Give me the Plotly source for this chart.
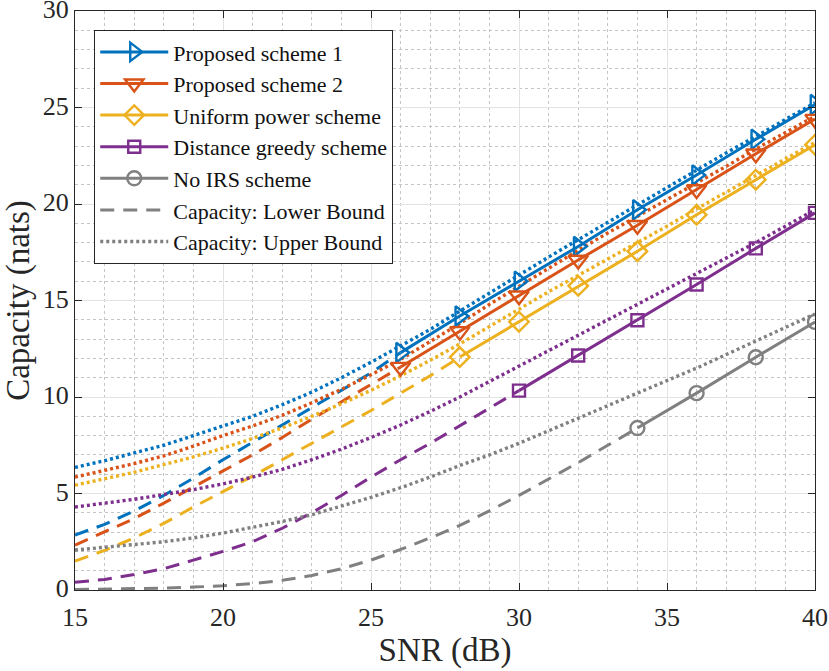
import plotly.graph_objects as go

# SNR grid for the bound curves (dB)
snr_fine = list(range(15, 41))

# marker points (solid lines)
snr_p1 = [26, 28, 30, 32, 34, 36, 38, 40]
cap_p1 = [12.3, 14.2, 16.0, 17.8, 19.7, 21.5, 23.35, 25.15]
snr_p2 = [26, 28, 30, 32, 34, 36, 38, 40]
cap_p2 = [11.55, 13.4, 15.25, 17.1, 18.9, 20.75, 22.6, 24.4]
snr_uni = [28, 30, 32, 34, 36, 38, 40]
cap_uni = [12.07, 13.9, 15.76, 17.55, 19.44, 21.26, 23.07]
snr_greedy = [30, 32, 34, 36, 38, 40]
cap_greedy = [10.33, 12.15, 13.98, 15.83, 17.7, 19.54]
snr_noirs = [34, 36, 38, 40]
cap_noirs = [8.39, 10.2, 12.06, 13.89]

# lower bounds (dashed), from 15 dB up to first marker
low_p1 = [2.85, 3.4, 4.1, 4.9, 5.8, 6.75, 7.65, 8.55, 9.45, 10.35, 11.25, 12.3]
low_p2 = [2.33, 3.0, 3.7, 4.5, 5.35, 6.17, 7.0, 7.9, 8.85, 9.75, 10.65, 11.55]
low_uni = [1.5, 2.05, 2.7, 3.45, 4.3, 5.1, 5.9, 6.75, 7.6, 8.45, 9.3, 10.2, 11.1, 12.07]
low_greedy = [0.4, 0.55, 0.8, 1.1, 1.55, 2.0, 2.5, 3.2, 4.0, 4.9, 5.85, 6.75, 7.6,
              8.5, 9.4, 10.33]
low_noirs = [0.02, 0.04, 0.06, 0.1, 0.15, 0.22, 0.33, 0.5, 0.75, 1.1, 1.55, 2.1, 2.7,
             3.35, 4.1, 4.9, 5.75, 6.6, 7.5, 8.39]

# upper bounds (dotted), 15..40 dB
up_p1 = [6.35, 6.7, 7.1, 7.5, 8.0, 8.5, 9.0, 9.6, 10.25, 11.0, 11.8, 12.65, 13.5,
         14.45, 15.4, 16.35, 17.25, 18.15, 19.05, 19.95, 20.85, 21.75, 22.65, 23.5,
         24.4, 25.25]
up_p2 = [5.85, 6.2, 6.55, 6.95, 7.45, 8.0, 8.5, 9.05, 9.7, 10.4, 11.15, 11.95, 12.85,
         13.8, 14.8, 15.75, 16.7, 17.6, 18.5, 19.35, 20.2, 21.1, 21.95, 22.85, 23.7,
         24.55]
up_uni = [5.43, 5.75, 6.1, 6.5, 6.9, 7.35, 7.85, 8.4, 9.0, 9.65, 10.35, 11.1, 11.9,
          12.75, 13.65, 14.6, 15.45, 16.3, 17.15, 18.0, 18.85, 19.75, 20.6, 21.5,
          22.35, 23.2]
up_greedy = [4.3, 4.5, 4.7, 4.95, 5.2, 5.5, 5.85, 6.25, 6.75, 7.3, 7.9, 8.55, 9.25,
             10.0, 10.8, 11.6, 12.4, 13.2, 14.0, 14.8, 15.6, 16.4, 17.2, 18.0, 18.85,
             19.7]
up_noirs = [2.07, 2.2, 2.35, 2.5, 2.7, 2.95, 3.25, 3.55, 3.9, 4.35, 4.8, 5.3, 5.85,
            6.45, 7.0, 7.6, 8.25, 8.9, 9.55, 10.2, 10.85, 11.5, 12.2, 12.9, 13.6, 14.3]

names = ["Proposed scheme 1", "Proposed scheme 2", "Uniform power scheme",
         "Distance greedy scheme", "No IRS scheme"]
colors = ["#0072BD", "#D95319", "#EDB120", "#7E2F8E", "#808080"]
symbols = ["triangle-right-open", "triangle-down-open", "diamond-open",
           "square-open", "circle-open"]
msizes = [17, 17, 15, 12, 14]

solid_x = [snr_p1, snr_p2, snr_uni, snr_greedy, snr_noirs]
solid_y = [cap_p1, cap_p2, cap_uni, cap_greedy, cap_noirs]
lows = [low_p1, low_p2, low_uni, low_greedy, low_noirs]
ups = [up_p1, up_p2, up_uni, up_greedy, up_noirs]

FONT = "Liberation Serif"
INK = "#262626"

fig = go.Figure()

# bound curves first so the marker lines sit on top
for i in range(5):
    is_gray = i == 4
    fig.add_trace(go.Scatter(
        x=snr_fine, y=ups[i], mode="lines",
        line=dict(color=colors[i], width=3.4, dash="3px,3px"),
        name="Capacity: Upper Bound", showlegend=is_gray, legendrank=7))
    fig.add_trace(go.Scatter(
        x=snr_fine[:len(lows[i])], y=lows[i], mode="lines",
        line=dict(color=colors[i], width=3, dash="14px,9px"),
        name="Capacity: Lower Bound", showlegend=is_gray, legendrank=6))

for i in range(5):
    fig.add_trace(go.Scatter(
        x=solid_x[i], y=solid_y[i], mode="lines+markers", name=names[i],
        line=dict(color=colors[i], width=3),
        marker=dict(symbol=symbols[i], size=msizes[i], color=colors[i],
                    line=dict(width=2.4)),
        legendrank=i + 1))

axis_common = dict(
    showline=True, linecolor=INK, linewidth=1, mirror="ticks",
    ticks="inside", ticklen=7, tickcolor=INK, tickwidth=1,
    showgrid=True, gridcolor="#e3e3e3", gridwidth=1, zeroline=False,
    automargin=False, ticklabeloverflow="allow",
    tickfont=dict(family=FONT, size=26, color=INK),
    title_font=dict(family=FONT, size=33, color=INK),
)

fig.update_xaxes(range=[15, 40], dtick=5, title_text="SNR (dB)",
                 minor=dict(dtick=1, showgrid=True, gridcolor="#c4c4c4",
                            griddash="dot", gridwidth=1),
                 ticklabelstandoff=4, title_standoff=4, **axis_common)
fig.update_yaxes(range=[0, 30], dtick=5, title_text="Capacity (nats)",
                 minor=dict(dtick=1, showgrid=True, gridcolor="#c4c4c4",
                            griddash="dot", gridwidth=1),
                 ticklabelshift=-2, title_standoff=6, **axis_common)

fig.update_layout(
    width=829, height=671,
    margin=dict(l=75, r=14, t=11, b=81),
    paper_bgcolor="white", plot_bgcolor="white",
    font=dict(family=FONT, color=INK),
    legend=dict(x=0.026, y=0.967, xanchor="left", yanchor="top",
                bgcolor="white", bordercolor=INK, borderwidth=1,
                font=dict(family=FONT, size=22, color="#111111"),
                itemwidth=68, tracegroupgap=0),
)

# drop the browser's default page margin so the figure sits at the window corner
fig.write_html("out.html", config={"displayModeBar": False},
               post_script="document.body.style.margin='0';"
                           "document.body.style.overflow='hidden';")
